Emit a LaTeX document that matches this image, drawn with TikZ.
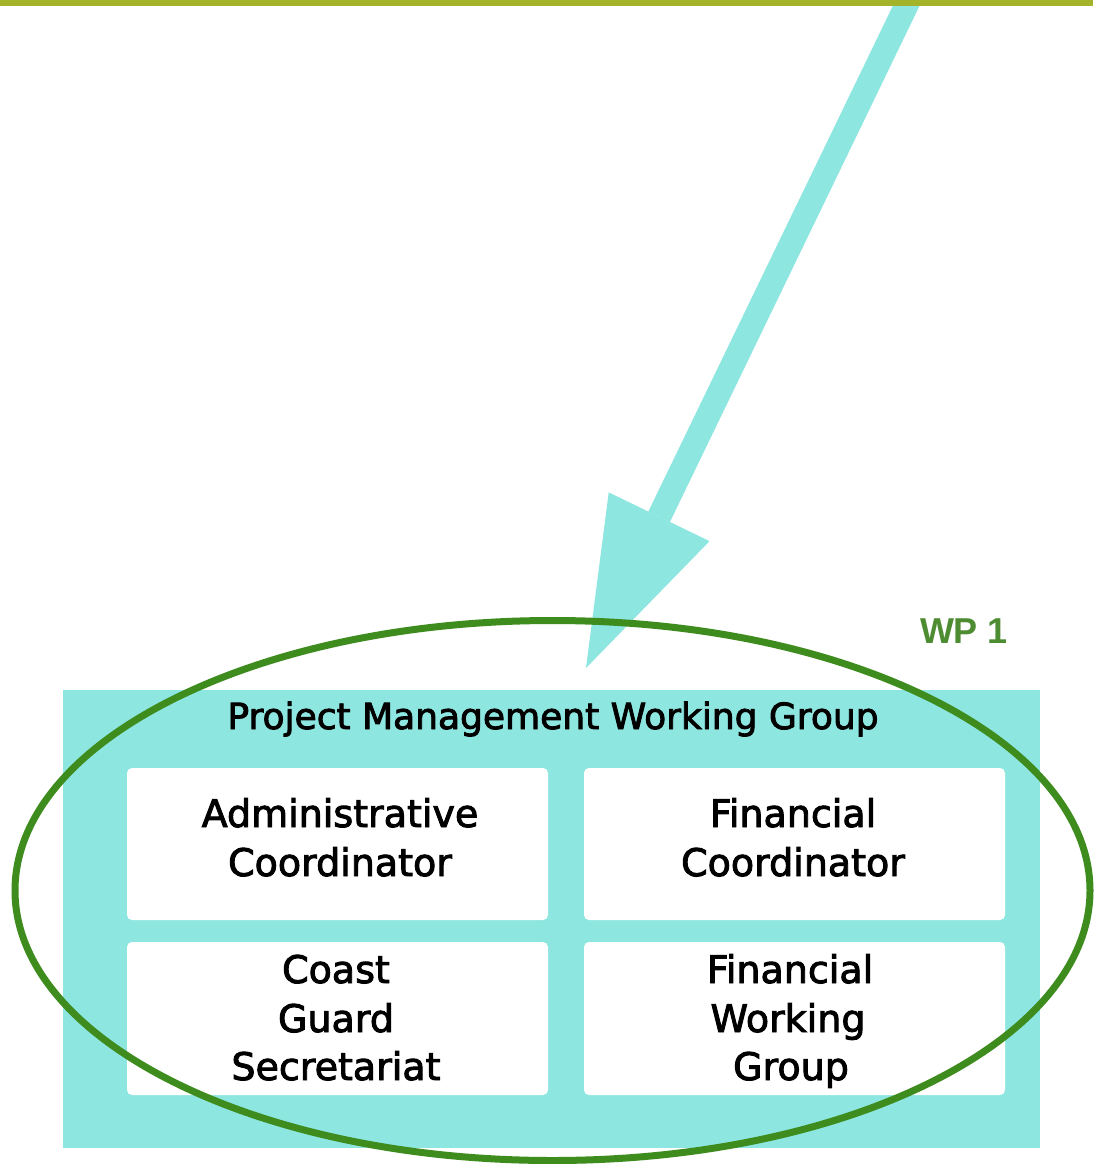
\documentclass[tikz,border=0pt]{standalone}
\usepackage{fontspec}
\newfontfamily\boxfont{DejaVu Sans}[RawFeature={embolden=2.5}]
\newfontfamily\wpfont{Liberation Sans}
\usetikzlibrary{shapes.geometric,arrows.meta}
\definecolor{cyanc}{RGB}{142,230,224}
\definecolor{barc}{RGB}{163,179,42}
\definecolor{ringc}{RGB}{62,140,30}
\definecolor{wpc}{RGB}{78,140,50}
\tikzset{
  cell/.style={fill=white, rounded corners=5pt, draw=none, inner sep=0pt},
  txt/.style={anchor=base, inner sep=0pt, font=\boxfont\fontsize{38}{42}\selectfont},
}
\begin{document}
\begin{tikzpicture}[x=1pt,y=-1pt]
\useasboundingbox (0,0) rectangle (1093,1164);
\fill[white] (0,0) rectangle (1093,1164);
% group box
\node[fill=cyanc, inner sep=0pt, minimum width=977pt, minimum height=458pt] (grp) at (551.5,919) {};
\node[cell, minimum width=421pt, minimum height=152pt] (adm) at (337.5,844) {};
\node[cell, minimum width=421pt, minimum height=152pt] (fin) at (794.5,844) {};
\node[cell, minimum width=421pt, minimum height=153pt] (cgs) at (337.5,1018.5) {};
\node[cell, minimum width=421pt, minimum height=153pt] (fwg) at (794.5,1018.5) {};
% texts
\node[txt, font=\boxfont\fontsize{36}{42}\selectfont] (h) at (553,729) {Project Management Working Group};
\node[txt] (a1) at (340,827) {Administrative};
\node[txt] (a2) at (340,876) {Coordinator};
\node[txt] (f1) at (793,827) {Financial};
\node[txt] (f2) at (793,876) {Coordinator};
\node[txt] (c1) at (336,983) {Coast};
\node[txt] (c2) at (336,1032) {Guard};
\node[txt] (c3) at (336,1080) {Secretariat};
\node[txt] (w1) at (790,983) {Financial};
\node[txt] (w2) at (788,1032) {Working};
\node[txt] (w3) at (791,1080) {Group};
% arrow
\coordinate (src) at (909,0);
\coordinate (tip) at (586,668);
\draw[cyanc, line width=24pt, -{Triangle[length=168pt,width=112pt,line width=0pt]}] (src) -- (tip);
% ring
\node[ellipse, draw=ringc, line width=7pt, minimum width=1075pt, minimum height=540pt, inner sep=0pt] (ring) at (552.5,890.5) {};
\node[anchor=base, inner sep=0pt, text=wpc, font=\wpfont\bfseries\fontsize{36}{40}\selectfont] (wp) at (964,643) {WP 1};
% top bar
\fill[barc] (0,0) rectangle (1093,6);
\end{tikzpicture}
\end{document}
